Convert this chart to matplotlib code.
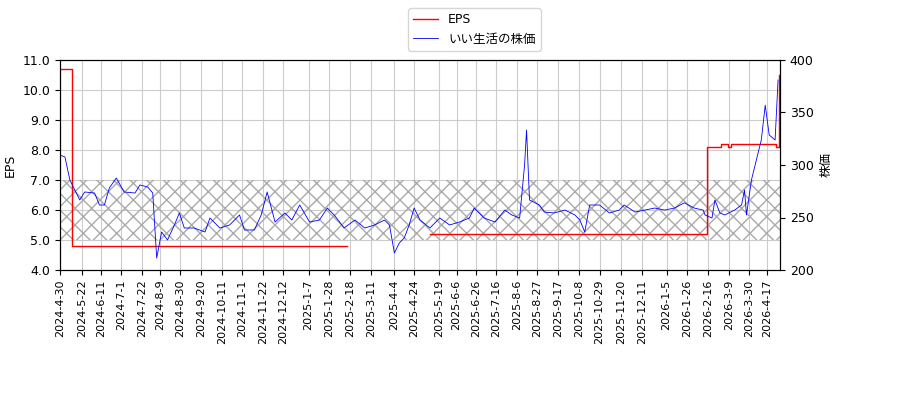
import matplotlib
matplotlib.use("Agg")
import matplotlib.pyplot as plt
import numpy as np
import datetime as dt

plt.rcParams['font.family'] = ['DejaVu Sans', 'Noto Sans CJK JP']

start = dt.date(2024, 4, 30)
price_x = [60,65,70,75,80,85,95,100,105,110,117,125,135,140,148,153,157,162,168,175,180,185,195,205,210,220,230,240,245,255,262,268,275,285,292,300,310,320,328,335,345,355,365,375,385,390,395,400,405,410,415,420,430,440,450,460,470,475,485,495,505,512,520,525,527,530,540,545,555,565,575,580,585,590,600,610,620,625,635,645,655,665,675,685,695,703,705,712,715,720,725,735,742,745,747,752,757,762,766,770,775,778]
price_y = [309.5,307.6,285.7,276.2,266.7,274.3,273.3,261.9,261.9,278.1,287.6,274.3,273.3,281,279,273.3,211.4,236.2,228.6,242.9,254.3,240,240,236.2,249.5,240,242.9,252.4,238.1,238.1,252.4,274.3,245.7,254.3,247.6,261.9,245.7,247.6,259,252.4,240,247.6,240,242.9,247.6,242.9,216.2,225.7,230.5,242.9,259,247.6,240,249.5,242.9,245.7,249.5,259,249.5,245.7,257.1,252.4,249.5,300,333.3,266.7,261.9,255.2,254.3,257.1,252.4,247.6,236.2,261.9,261.9,254.3,257.1,261.9,255.2,257.1,259,257.1,259,264,259,257.1,252.4,249.5,266.7,254.3,252.4,257.1,261.9,276.2,252.4,285.7,304.8,323.8,357,328.6,323.8,381]
price_days = [(x - 60) * 1.014 for x in price_x]

eps_days = [0, 10, 12, 290, 291, 375, 655, 656, 670, 673, 677, 680, 723, 726, 728, 729]
eps_vals = [10.7, 10.7, 4.8, 4.8, np.nan, 5.2, 5.2, 8.1, 8.2, 8.2, 8.1, 8.2, 8.2, 8.1, 8.1, 10.5]

tick_labels = ["2024-4-30","2024-5-22","2024-6-11","2024-7-1","2024-7-22","2024-8-9","2024-8-30",
               "2024-9-20","2024-10-11","2024-11-1","2024-11-22","2024-12-12","2025-1-7","2025-1-28",
               "2025-2-18","2025-3-11","2025-4-4","2025-4-24","2025-5-19","2025-6-6","2025-6-26",
               "2025-7-16","2025-8-6","2025-8-27","2025-9-17","2025-10-8","2025-10-29","2025-11-20",
               "2025-12-11","2026-1-5","2026-1-26","2026-2-16","2026-3-9","2026-3-30","2026-4-17"]

p_dates = [start + dt.timedelta(days=d) for d in price_days]
e_dates = [start + dt.timedelta(days=d) for d in eps_days]

fig = plt.figure(figsize=(9, 4), dpi=100)
ax = fig.add_axes([0.0667, 0.325, 0.8, 0.525])
ax2 = ax.twinx()

ax.axhspan(5, 7, facecolor='none', edgecolor='#aaaaaa', hatch='xx', linewidth=0)
l1, = ax.plot(e_dates, eps_vals, color='red', lw=1, drawstyle='steps-post', label='EPS')
l2, = ax2.plot(p_dates, price_y, color='blue', lw=0.6, label='いい生活の株価')

ax.set_ylim(4, 11)
ax.set_yticks(np.arange(4, 11.5, 1))
ax.set_yticklabels([f"{v:.1f}" for v in np.arange(4, 11.5, 1)], fontsize=9)
ax2.set_ylim(200, 400)
ax2.set_yticks([200, 250, 300, 350, 400])
ax2.tick_params(labelsize=9)
ax.set_ylabel('EPS', fontsize=9)
ax2.set_ylabel('株価', fontsize=9)

ax.set_xlim(start, start + dt.timedelta(days=730))
ticks = [dt.datetime.strptime(s, "%Y-%m-%d").date() for s in tick_labels]
ax.set_xticks(ticks)
ax.set_xticklabels(tick_labels, rotation=90, fontsize=8)
ax.grid(True, color='#cccccc', lw=0.8)
ax.set_axisbelow(True)

fig.legend([l1, l2], ['EPS', 'いい生活の株価'], loc='upper center', bbox_to_anchor=(0.527, 0.995), fontsize=9)
fig.savefig('out.png')
